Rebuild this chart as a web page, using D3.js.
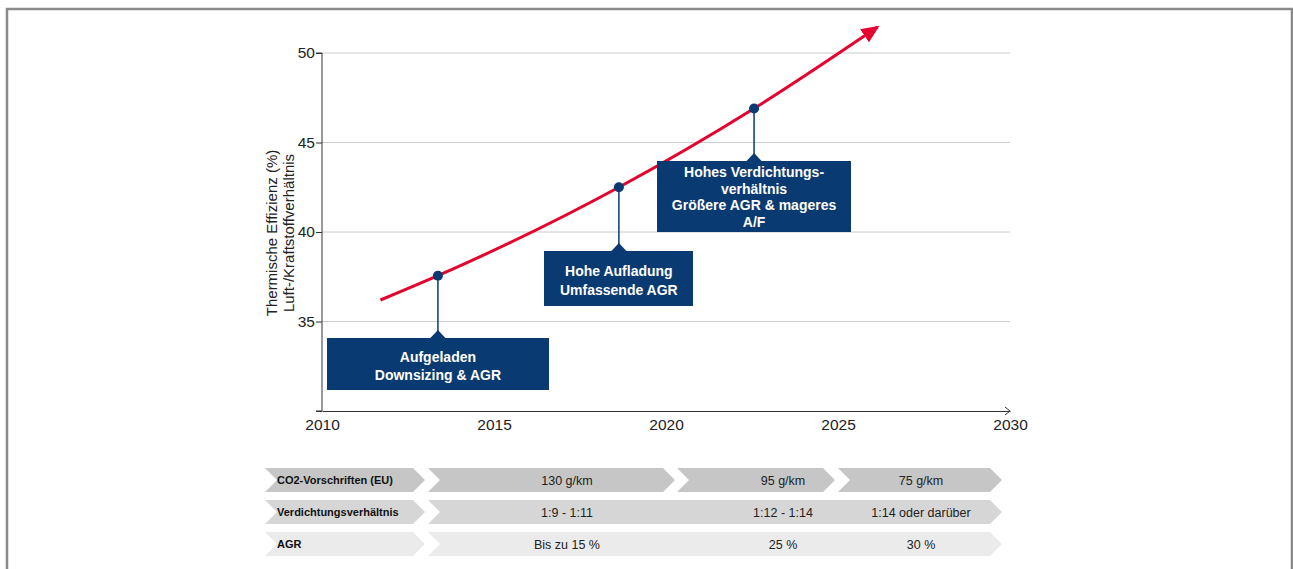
<!DOCTYPE html>
<html><head><meta charset="utf-8">
<script src="https://cdn.jsdelivr.net/npm/d3@7/dist/d3.min.js"></script>
<style>body{margin:0;background:#fff;}svg{display:block;font-family:"Liberation Sans",Arial,sans-serif;}</style>
</head><body>
<svg id="c" width="1293" height="569"></svg>
<script>
// ---- data ----
const xTicks = [2010, 2015, 2020, 2025, 2030];
const yTicks = [35, 40, 45, 50];
const curveYears = [2011.7, 2013.37, 2018.63, 2022.56, 2026.15];
const curveValues = [36.2, 37.56, 42.5, 46.9, 51.45];
const milestoneYears = [2013.37, 2018.63, 2022.56];
const milestoneValues = [37.56, 42.5, 46.9];
const milestoneLabels = [
  ["Aufgeladen", "Downsizing & AGR"],
  ["Hohe Aufladung", "Umfassende AGR"],
  ["Hohes Verdichtungs-", "verhältnis", "Größere AGR & mageres", "A/F"]
];
const yTitle = ["Thermische Effizienz (%)", "Luft-/Kraftstoffverhältnis"];
const rowLabels = ["CO2-Vorschriften (EU)", "Verdichtungsverhältnis", "AGR"];
const rowValues = [
  ["130 g/km", "95 g/km", "75 g/km"],
  ["1:9 - 1:11", "1:12 - 1:14", "1:14 oder darüber"],
  ["Bis zu 15 %", "25 %", "30 %"]
];

// ---- layout ----
const svg = d3.select("#c");
const x = d3.scaleLinear().domain([2010, 2030]).range([322, 1010]);
const y = d3.scaleLinear().domain([30, 50]).range([411, 53]);

// frame
svg.append("path").attr("d", "M7,575 L7,9 L1292,9 L1292,575")
  .attr("fill", "none").attr("stroke", "#8a8a8a").attr("stroke-width", 2.5);

// grid
svg.append("g").selectAll("line").data(yTicks).join("line")
  .attr("x1", 322).attr("x2", 1010).attr("y1", d => y(d)).attr("y2", d => y(d))
  .attr("stroke", "#cccccc").attr("stroke-width", 1);

// y axis
const yAxis = d3.axisLeft(y).tickValues([30].concat(yTicks)).tickSize(6).tickPadding(1)
  .tickFormat(d => d === 30 ? "" : d);
const gy = svg.append("g").attr("transform", "translate(322,0)").call(yAxis);
gy.select(".domain").attr("stroke", "#333").attr("d", "M-6," + y(30) + "H0V" + y(50) + "H-6");
gy.selectAll(".tick line").attr("stroke", "#333");
gy.selectAll("text").attr("font-size", 15.5).attr("fill", "#222")
  .attr("font-family", "'Liberation Sans',Arial,sans-serif");

// x axis
const xAxis = d3.axisBottom(x).tickValues(xTicks).tickSize(0).tickPadding(8).tickFormat(d3.format("d"));
const gx = svg.append("g").attr("transform", "translate(0,411)").call(xAxis);
gx.select(".domain").attr("stroke", "#333");
gx.selectAll("text").attr("font-size", 15.5).attr("fill", "#222")
  .attr("font-family", "'Liberation Sans',Arial,sans-serif");
svg.append("path").attr("d", `M${x(2030) - 5},407 L${x(2030)},411 L${x(2030) - 5},415`)
  .attr("fill", "none").attr("stroke", "#333").attr("stroke-width", 1);

// y title
const yt = svg.append("text").attr("transform", "translate(277,233) rotate(-90)")
  .attr("text-anchor", "middle").attr("font-size", 15).attr("fill", "#222");
yTitle.forEach((t, i) => yt.append("tspan").attr("x", 0).attr("dy", i === 0 ? 0 : 17).text(t));

// arrow marker
const defs = svg.append("defs");
defs.append("marker").attr("id", "arr").attr("markerUnits", "userSpaceOnUse")
  .attr("viewBox", "0 0 16 14").attr("refX", 14).attr("refY", 7)
  .attr("markerWidth", 18).attr("markerHeight", 16).attr("orient", "auto")
  .append("path").attr("d", "M0,0 L16,7 L0,14 Z").attr("fill", "#e4032e");

// curve
const pts = curveYears.map((yr, i) => [x(yr), y(curveValues[i])]);
svg.append("path").datum(pts)
  .attr("d", d3.line().curve(d3.curveMonotoneX))
  .attr("fill", "none").attr("stroke", "#e4032e").attr("stroke-width", 3)
  .attr("marker-end", "url(#arr)");

// callouts
const navy = "#0a3a72";
const boxes = [
  { x0: 327, x1: 549, y0: 338, y1: 390 },
  { x0: 544, x1: 693, y0: 251, y1: 306 },
  { x0: 657, x1: 851, y0: 161, y1: 232 }
];
milestoneYears.forEach((yr, i) => {
  const cx = x(yr), cy = y(milestoneValues[i]);
  const b = boxes[i];
  svg.append("line").attr("x1", cx).attr("x2", cx).attr("y1", cy).attr("y2", b.y0)
    .attr("stroke", navy).attr("stroke-width", 1.5);
  svg.append("rect").attr("x", b.x0).attr("y", b.y0).attr("width", b.x1 - b.x0).attr("height", b.y1 - b.y0)
    .attr("fill", navy);
  svg.append("path").attr("d", `M${cx - 8},${b.y0 + 0.5} L${cx},${b.y0 - 8} L${cx + 8},${b.y0 + 0.5} Z`).attr("fill", navy);
  svg.append("circle").attr("cx", cx).attr("cy", cy).attr("r", 5).attr("fill", navy);
  const lines = milestoneLabels[i];
  const lh = lines.length > 2 ? 16.7 : 18.5;
  const mid = (b.y0 + b.y1) / 2 + (lines.length > 2 ? 0.5 : 2);
  const t = svg.append("text").attr("text-anchor", "middle").attr("font-size", 14)
    .attr("font-weight", "bold").attr("fill", "#fff");
  lines.forEach((l, j) => t.append("tspan").attr("x", cx)
    .attr("y", mid + (j - (lines.length - 1) / 2) * lh + 5).text(l));
});

// table
const rowY = [468, 500, 532];
const rowH = 24;
const rowFill = ["#c6c6c6", "#d6d6d6", "#ebebeb"];
const n = 12;
function chevron(x0, x1, y0, h, notch) {
  const m = y0 + h / 2;
  return `M${x0},${y0} L${x1 - n},${y0} L${x1},${m} L${x1 - n},${y0 + h} L${x0},${y0 + h}` +
    (notch ? ` L${x0 + n},${m} Z` : " Z");
}
const colCenters = [567, 783, 921];
const segs1 = [[428, 675], [677, 835], [838, 1002]];
rowLabels.forEach((lab, r) => {
  const y0 = rowY[r];
  svg.append("path").attr("d", chevron(265, 425, y0, rowH, true)).attr("fill", rowFill[r]);
  svg.append("text").attr("x", 277).attr("y", y0 + rowH / 2 + 4).attr("font-size", 11)
    .attr("font-weight", "bold").attr("fill", "#111").text(lab);
  const segs = r === 0 ? segs1 : [[428, 1002]];
  segs.forEach(s => svg.append("path").attr("d", chevron(s[0], s[1], y0, rowH, true)).attr("fill", rowFill[r]));
  rowValues[r].forEach((v, k) => svg.append("text").attr("x", colCenters[k]).attr("y", y0 + rowH / 2 + 4.5)
    .attr("text-anchor", "middle").attr("font-size", 12.5).attr("fill", "#222").text(v));
});
</script>
</body></html>
